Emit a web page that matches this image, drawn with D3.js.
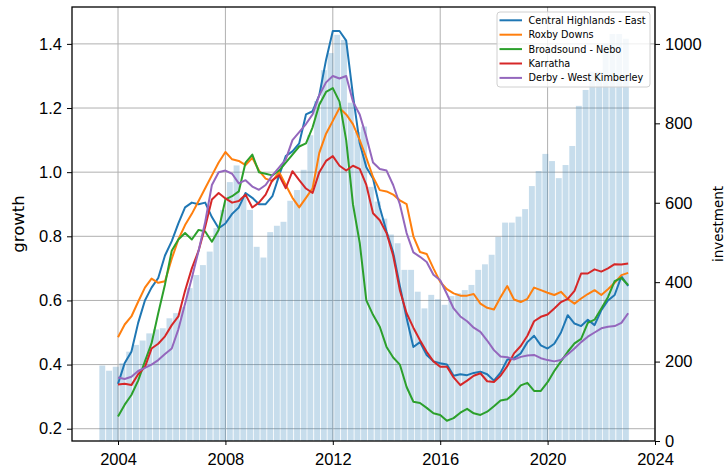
<!DOCTYPE html>
<html>
<head>
<meta charset="utf-8">
<script src="https://cdn.jsdelivr.net/npm/d3@7"></script>
<style>
	body { margin: 0; background: #fff; }
	svg { font-family: "DejaVu Sans", sans-serif; }
	.grid line { stroke: #b0b0b0; stroke-width: 1; }
	.axis text { font-size: 16.5px; fill: #000; }
	.axis line { stroke: #000; stroke-width: 1; }
	.axis path { display: none; }
	.legend text { font-size: 9.7px; fill: #000; }
</style>
</head>
<body>
<div id="chart"></div>
<script>
// regiones y colores (tab10)
const regions = ['Central Highlands - East', 'Roxby Downs', 'Broadsound - Nebo', 'Karratha', 'Derby - West Kimberley'];
const colors = ['#1f77b4', '#ff7f0e', '#2ca02c', '#d62728', '#9467bd'];

// growth, trimestral desde 2004-01 hasta 2023-01
const centralHighlands = [
	0.34, 0.405, 0.44, 0.53, 0.6, 0.64, 0.67, 0.74, 0.785, 0.84,
	0.89, 0.905, 0.9, 0.905, 0.86, 0.825, 0.84, 0.87, 0.89, 0.935,
	0.92, 0.9, 0.9, 0.925, 0.99, 1.05, 1.065, 1.09, 1.18, 1.19,
	1.24, 1.35, 1.44, 1.44, 1.41, 1.24, 1.09, 1.015, 0.98, 0.89,
	0.815, 0.75, 0.645, 0.545, 0.455, 0.47, 0.43, 0.41, 0.404, 0.40,
	0.365, 0.37, 0.367, 0.374, 0.378, 0.37, 0.35, 0.375, 0.415, 0.42,
	0.435, 0.47, 0.49, 0.46, 0.45, 0.465, 0.50, 0.554, 0.528, 0.52,
	0.54, 0.523, 0.57, 0.60, 0.617, 0.675, 0.645
];
const roxbyDowns = [
	0.485, 0.525, 0.55, 0.596, 0.64, 0.668, 0.655, 0.66, 0.73, 0.79,
	0.835, 0.87, 0.91, 0.95, 0.99, 1.03, 1.063, 1.04, 1.035, 1.022,
	1.045, 1.005, 0.98, 0.972, 1.0, 0.96, 0.92, 0.89, 0.92, 0.95,
	1.06, 1.12, 1.16, 1.2, 1.18, 1.15, 1.1, 1.045, 0.985, 0.944,
	0.94, 0.93, 0.912, 0.9, 0.80, 0.751, 0.745, 0.70, 0.658, 0.635,
	0.622, 0.615, 0.615, 0.62, 0.59, 0.577, 0.572, 0.61, 0.645, 0.603,
	0.595, 0.605, 0.64, 0.632, 0.624, 0.617, 0.627, 0.605, 0.59, 0.606,
	0.62, 0.632, 0.617, 0.635, 0.655, 0.679, 0.686
];
const broadsound = [
	0.238, 0.275, 0.305, 0.35, 0.41, 0.466, 0.56, 0.65, 0.755, 0.79,
	0.81, 0.79, 0.82, 0.815, 0.783, 0.82, 0.915, 0.925, 0.94, 1.03,
	1.055, 1.0, 0.995, 0.99, 1.005, 1.03, 1.055, 1.08, 1.09, 1.14,
	1.21, 1.25, 1.262, 1.22, 1.10, 0.90, 0.78, 0.60, 0.555, 0.518,
	0.455, 0.422, 0.40, 0.33, 0.284, 0.28, 0.265, 0.248, 0.243, 0.225,
	0.233, 0.25, 0.262, 0.248, 0.243, 0.253, 0.27, 0.288, 0.292, 0.31,
	0.335, 0.343, 0.318, 0.318, 0.345, 0.38, 0.41, 0.44, 0.466, 0.48,
	0.53, 0.54, 0.575, 0.61, 0.66, 0.67, 0.648
];
const karratha = [
	0.338, 0.34, 0.336, 0.37, 0.392, 0.45, 0.465, 0.488, 0.523, 0.55,
	0.63, 0.70, 0.755, 0.83, 0.915, 0.935, 0.918, 0.905, 0.91, 0.93,
	0.89, 0.905, 0.93, 0.975, 0.99, 0.95, 1.003, 0.975, 0.949, 0.935,
	1.0, 1.035, 1.05, 1.02, 1.005, 1.02, 1.01, 0.96, 0.872, 0.85,
	0.81, 0.74, 0.632, 0.56, 0.515, 0.476, 0.44, 0.41, 0.393, 0.393,
	0.36, 0.336, 0.35, 0.365, 0.373, 0.348, 0.346, 0.365, 0.395, 0.435,
	0.458, 0.49, 0.535, 0.549, 0.556, 0.575, 0.595, 0.605, 0.63, 0.684,
	0.684, 0.697, 0.69, 0.70, 0.713, 0.712, 0.715
];
const derby = [
	0.36, 0.355, 0.362, 0.38, 0.39, 0.40, 0.414, 0.433, 0.45, 0.51,
	0.59, 0.67, 0.755, 0.845, 0.96, 1.0, 1.005, 0.995, 0.965, 0.975,
	0.955, 0.945, 0.96, 0.99, 1.015, 1.04, 1.1, 1.125, 1.15, 1.18,
	1.24, 1.28, 1.30, 1.292, 1.3, 1.22, 1.18, 1.11, 1.03, 1.01,
	1.005, 0.96, 0.9, 0.81, 0.75, 0.736, 0.72, 0.68, 0.663, 0.62,
	0.575, 0.55, 0.535, 0.515, 0.502, 0.475, 0.445, 0.425, 0.423, 0.416,
	0.424, 0.428, 0.43, 0.42, 0.414, 0.41, 0.414, 0.432, 0.45, 0.47,
	0.487, 0.50, 0.513, 0.518, 0.52, 0.53, 0.56
];

// investment, trimestral desde 2003-06 hasta 2022-12
const investment = [
	190, 177, 187, 196, 225, 242, 253, 271, 281, 284,
	309, 322, 338, 385, 418, 443, 477, 536, 582, 652,
	694, 615, 582, 489, 462, 526, 542, 552, 605, 632,
	683, 770, 856, 934, 977, 1023, 1010, 852, 778, 792,
	640, 603, 560, 520, 498, 431, 431, 376, 334, 368,
	357, 343, 365, 372, 380, 393, 431, 445, 469, 514,
	550, 550, 565, 584, 642, 680, 723, 705, 662, 695,
	743, 844, 884, 930, 930, 1000, 1025, 1025, 1013
];

const growthTicks = [0.2, 0.4, 0.6, 0.8, 1.0, 1.2, 1.4];
const investmentTicks = [0, 200, 400, 600, 800, 1000];

const width = 727, height = 472;
const margin = { top: 7, right: 72, bottom: 31, left: 72 };

const lineDates = d3.timeMonth.range(new Date(2004, 0, 1), new Date(2023, 0, 2), 3);
const barDates = d3.timeMonth.range(new Date(2003, 5, 1), new Date(2022, 11, 2), 3);

const series = regions.map((name, i) => ({
	name: name,
	color: colors[i],
	values: [centralHighlands, roxbyDowns, broadsound, karratha, derby][i]
		.map((v, j) => ({ date: lineDates[j], value: v }))
}));
const bars = investment.map((v, i) => ({ date: barDates[i], value: v }));

function yearToDate(y) {
	let year = Math.floor(y);
	let start = new Date(year, 0, 1), end = new Date(year + 1, 0, 1);
	return new Date(+start + (y - year) * (end - start));
}

const svg = d3.select('#chart').append('svg')
	.attr('width', width)
	.attr('height', height);

const x = d3.scaleTime()
	.domain([yearToDate(2002.285), yearToDate(2024.0)])
	.range([margin.left, width - margin.right]);

const yLeft = d3.scaleLinear()
	.domain([0.1617, 1.515])
	.range([height - margin.bottom, margin.top]);

const yRight = d3.scaleLinear()
	.domain([0, 1093])
	.range([height - margin.bottom, margin.top]);

const xTicks = d3.timeYear.every(4).range(new Date(2004, 0, 1), new Date(2024, 0, 2));

// grid
const grid = svg.append('g').attr('class', 'grid');
grid.selectAll('line.v').data(xTicks).join('line').attr('class', 'v')
	.attr('x1', d => x(d)).attr('x2', d => x(d))
	.attr('y1', margin.top).attr('y2', height - margin.bottom);
grid.selectAll('line.h').data(growthTicks).join('line').attr('class', 'h')
	.attr('x1', margin.left).attr('x2', width - margin.right)
	.attr('y1', d => yLeft(d)).attr('y2', d => yLeft(d));

// barras de inversión
const barWidth = x(d3.timeDay.offset(barDates[0], 80)) - x(barDates[0]);
svg.append('g').attr('class', 'bars')
	.selectAll('rect').data(bars).join('rect')
	.attr('x', d => x(d.date) - barWidth / 2)
	.attr('width', barWidth)
	.attr('y', d => yRight(d.value))
	.attr('height', d => yRight(0) - yRight(d.value))
	.attr('fill', '#1f77b4')
	.attr('fill-opacity', 0.25);

// líneas
const line = d3.line()
	.x(d => x(d.date))
	.y(d => yLeft(d.value));

svg.append('g').attr('class', 'lines')
	.selectAll('path').data(series).join('path')
	.attr('d', d => line(d.values))
	.attr('fill', 'none')
	.attr('stroke', d => d.color)
	.attr('stroke-width', 2)
	.attr('stroke-linejoin', 'round');

// ejes
svg.append('g').attr('class', 'axis')
	.attr('transform', `translate(0, ${height - margin.bottom})`)
	.call(d3.axisBottom(x).tickValues(xTicks).tickFormat(d3.timeFormat('%Y')).tickSize(4).tickPadding(8));

svg.append('g').attr('class', 'axis')
	.attr('transform', `translate(${margin.left}, 0)`)
	.call(d3.axisLeft(yLeft).tickValues(growthTicks).tickFormat(d3.format('.1f')).tickSize(5).tickPadding(5));

svg.append('g').attr('class', 'axis')
	.attr('transform', `translate(${width - margin.right}, 0)`)
	.call(d3.axisRight(yRight).tickValues(investmentTicks).tickFormat(d3.format('d')).tickSize(5).tickPadding(5));

// marco
svg.append('rect')
	.attr('x', margin.left).attr('y', margin.top)
	.attr('width', width - margin.left - margin.right)
	.attr('height', height - margin.top - margin.bottom)
	.attr('fill', 'none')
	.attr('stroke', '#000')
	.attr('stroke-width', 1.3);

// etiquetas de ejes
const midY = (margin.top + height - margin.bottom) / 2;
svg.append('text')
	.attr('transform', `translate(24, ${midY}) rotate(-90)`)
	.attr('text-anchor', 'middle')
	.style('font-size', '16.5px')
	.text('growth');
svg.append('text')
	.attr('transform', `translate(723, ${midY}) rotate(-90)`)
	.attr('text-anchor', 'middle')
	.style('font-size', '13.5px')
	.text('investment');

// leyenda
const legend = svg.append('g').attr('class', 'legend')
	.attr('transform', 'translate(497, 12)');
legend.append('rect')
	.attr('width', 153).attr('height', 75)
	.attr('rx', 3).attr('ry', 3)
	.attr('fill', '#fff').attr('fill-opacity', 0.8)
	.attr('stroke', '#d0d0d0');
const rows = legend.selectAll('g.row').data(series).join('g').attr('class', 'row')
	.attr('transform', (d, i) => `translate(0, ${8.3 + i * 14.4})`);
rows.append('line')
	.attr('x1', 2.5).attr('x2', 25)
	.attr('stroke', d => d.color).attr('stroke-width', 2);
rows.append('text')
	.attr('x', 31.5).attr('dy', '0.35em')
	.text(d => d.name);
</script>
</body>
</html>
